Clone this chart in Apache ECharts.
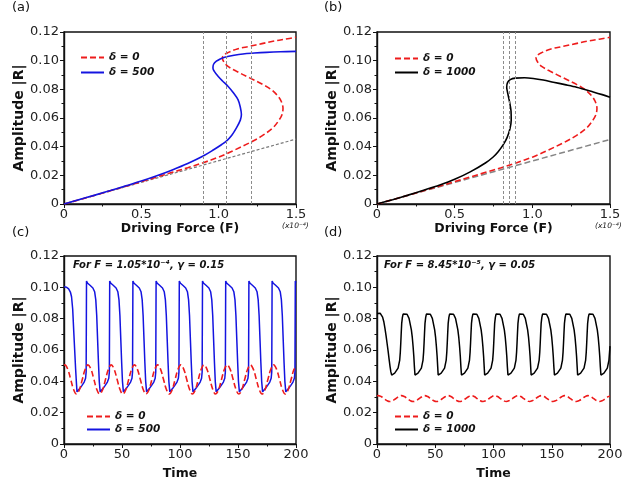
<!DOCTYPE html>
<html>
<head>
<meta charset="utf-8">
<script src="https://cdn.jsdelivr.net/npm/echarts@6/dist/echarts.min.js"></script>
<style>
  html, body { margin: 0; padding: 0; background: #fff; }
  #chart { width: 638px; height: 484px; }
</style>
</head>
<body>
<div id="chart"></div>
<script>
// ---- Frequency response: amplitude |R| versus driving force F (x1e-4) ----
// delta = 0 (same curve in panels a and b)
const respDelta0 = [
  [0, 0], [0.1, 0.0030], [0.2, 0.0061], [0.3, 0.0093], [0.4, 0.0124], [0.5, 0.0156],
  [0.6, 0.0188], [0.7, 0.0221], [0.8, 0.0253], [0.9, 0.0288], [1.0, 0.0327], [1.05, 0.0350],
  [1.1, 0.0375], [1.2, 0.0427], [1.28, 0.0475], [1.35, 0.0531], [1.39, 0.0585], [1.41, 0.0625],
  [1.416, 0.0668], [1.405, 0.0715], [1.384, 0.0752], [1.34, 0.0798], [1.287, 0.0833], [1.2, 0.0880],
  [1.115, 0.0926], [1.06, 0.0960], [1.033, 0.0992], [1.024, 0.1019], [1.035, 0.1040], [1.06, 0.1056],
  [1.12, 0.1082], [1.2, 0.1100], [1.28, 0.1119], [1.351, 0.1135], [1.43, 0.1150], [1.5, 0.1163]
];
// delta = 500
const respDelta500 = [
  [0, 0], [0.1, 0.0031], [0.2, 0.0062], [0.3, 0.0094], [0.4, 0.0127], [0.5, 0.0160],
  [0.6, 0.0197], [0.7, 0.0238], [0.8, 0.0283], [0.9, 0.0335], [0.97, 0.0380], [1.02, 0.0415],
  [1.05, 0.0439], [1.085, 0.0480], [1.115, 0.0531], [1.14, 0.0585], [1.147, 0.0624], [1.14, 0.0675],
  [1.125, 0.0728], [1.095, 0.0776], [1.06, 0.0822], [1.025, 0.0858], [0.996, 0.0891], [0.972, 0.0925],
  [0.963, 0.0949], [0.967, 0.0975], [0.985, 0.0996], [1.01, 0.1012], [1.039, 0.1024], [1.1, 0.1038],
  [1.157, 0.1047], [1.23, 0.1053], [1.308, 0.1058], [1.4, 0.1062], [1.5, 0.1065]
];
// delta = 1000
const respDelta1000 = [
  [0, 0], [0.1, 0.0030], [0.2, 0.0062], [0.3, 0.0096], [0.4, 0.0131], [0.5, 0.0172],
  [0.6, 0.0224], [0.7, 0.0288], [0.748, 0.0328], [0.78, 0.0365], [0.812, 0.0412], [0.838, 0.0465],
  [0.856, 0.0525], [0.864, 0.0585], [0.863, 0.0645], [0.853, 0.0715], [0.841, 0.0775], [0.835, 0.0815],
  [0.841, 0.0848], [0.858, 0.0868], [0.89, 0.0878], [0.95, 0.0881], [1.006, 0.0876], [1.07, 0.0865],
  [1.135, 0.0850], [1.21, 0.0833], [1.285, 0.0815], [1.392, 0.0782], [1.45, 0.0763], [1.5, 0.0745]
];
// linear (small-amplitude) response
const linearA = [[0, 0], [1.5, 0.0453]];
const linearB = [[0, 0], [1.5, 0.0450]];
// driving forces marked by vertical guides
const guidesA = [0.90, 1.05, 1.21];
const guidesB = [0.812, 0.853, 0.894];

// ---- Time traces of |R| ----
// F = 1.05e-4, gamma = 0.15, delta = 0
const traceC0 = [
  [0, 0.0503], [0.7, 0.0505], [3.2, 0.0478], [5.7, 0.0415], [8.2, 0.0350], [10.7, 0.0319], [13.2, 0.0345], [15.7, 0.0410], [18.2, 0.0475],
  [20.7, 0.0505], [23.2, 0.0478], [25.7, 0.0415], [28.2, 0.0350], [30.7, 0.0319], [33.2, 0.0345], [35.7, 0.0410], [38.2, 0.0475],
  [40.7, 0.0505], [43.2, 0.0478], [45.7, 0.0415], [48.2, 0.0350], [50.7, 0.0319], [53.2, 0.0345], [55.7, 0.0410], [58.2, 0.0475],
  [60.7, 0.0505], [63.2, 0.0478], [65.7, 0.0415], [68.2, 0.0350], [70.7, 0.0319], [73.2, 0.0345], [75.7, 0.0410], [78.2, 0.0475],
  [80.7, 0.0505], [83.2, 0.0478], [85.7, 0.0415], [88.2, 0.0350], [90.7, 0.0319], [93.2, 0.0345], [95.7, 0.0410], [98.2, 0.0475],
  [100.7, 0.0505], [103.2, 0.0478], [105.7, 0.0415], [108.2, 0.0350], [110.7, 0.0319], [113.2, 0.0345], [115.7, 0.0410], [118.2, 0.0475],
  [120.7, 0.0505], [123.2, 0.0478], [125.7, 0.0415], [128.2, 0.0350], [130.7, 0.0319], [133.2, 0.0345], [135.7, 0.0410], [138.2, 0.0475],
  [140.7, 0.0505], [143.2, 0.0478], [145.7, 0.0415], [148.2, 0.0350], [150.7, 0.0319], [153.2, 0.0345], [155.7, 0.0410], [158.2, 0.0475],
  [160.7, 0.0505], [163.2, 0.0478], [165.7, 0.0415], [168.2, 0.0350], [170.7, 0.0319], [173.2, 0.0345], [175.7, 0.0410], [178.2, 0.0475],
  [180.7, 0.0505], [183.2, 0.0478], [185.7, 0.0415], [188.2, 0.0350], [190.7, 0.0319], [193.2, 0.0345], [195.7, 0.0410], [198.2, 0.0475],
  [200, 0.0492]
];
// F = 1.05e-4, gamma = 0.15, delta = 500
const traceC500 = [
  [0, 0.1003], [2, 0.1001], [4, 0.0990], [5.5, 0.0970], [6.5, 0.0940], [7.5, 0.0860], [8.4, 0.0720], [9.2, 0.0600], [10, 0.0480], [10.7, 0.0390], [11.2, 0.0333], [11.9, 0.0336], [13.4, 0.0352], [15.4, 0.0373], [17.4, 0.0395], [18.6, 0.0420], [19.1, 0.0460],
  [19.4, 0.1040], [20.4, 0.1026], [22.4, 0.1013], [24.9, 0.0996], [26.4, 0.0972], [27.4, 0.0920], [28.2, 0.0820], [29.0, 0.0660], [29.7, 0.0520], [30.4, 0.0400], [31.2, 0.0333], [31.9, 0.0336], [33.4, 0.0352], [35.4, 0.0373], [37.4, 0.0395], [38.6, 0.0420], [39.1, 0.0460],
  [39.4, 0.1040], [40.4, 0.1026], [42.4, 0.1013], [44.9, 0.0996], [46.4, 0.0972], [47.4, 0.0920], [48.2, 0.0820], [49.0, 0.0660], [49.7, 0.0520], [50.4, 0.0400], [51.2, 0.0333], [51.9, 0.0336], [53.4, 0.0352], [55.4, 0.0373], [57.4, 0.0395], [58.6, 0.0420], [59.1, 0.0460],
  [59.4, 0.1040], [60.4, 0.1026], [62.4, 0.1013], [64.9, 0.0996], [66.4, 0.0972], [67.4, 0.0920], [68.2, 0.0820], [69.0, 0.0660], [69.7, 0.0520], [70.4, 0.0400], [71.2, 0.0333], [71.9, 0.0336], [73.4, 0.0352], [75.4, 0.0373], [77.4, 0.0395], [78.6, 0.0420], [79.1, 0.0460],
  [79.4, 0.1040], [80.4, 0.1026], [82.4, 0.1013], [84.9, 0.0996], [86.4, 0.0972], [87.4, 0.0920], [88.2, 0.0820], [89.0, 0.0660], [89.7, 0.0520], [90.4, 0.0400], [91.2, 0.0333], [91.9, 0.0336], [93.4, 0.0352], [95.4, 0.0373], [97.4, 0.0395], [98.6, 0.0420], [99.1, 0.0460],
  [99.4, 0.1040], [100.4, 0.1026], [102.4, 0.1013], [104.9, 0.0996], [106.4, 0.0972], [107.4, 0.0920], [108.2, 0.0820], [109.0, 0.0660], [109.7, 0.0520], [110.4, 0.0400], [111.2, 0.0333], [111.9, 0.0336], [113.4, 0.0352], [115.4, 0.0373], [117.4, 0.0395], [118.6, 0.0420], [119.1, 0.0460],
  [119.4, 0.1040], [120.4, 0.1026], [122.4, 0.1013], [124.9, 0.0996], [126.4, 0.0972], [127.4, 0.0920], [128.2, 0.0820], [129.0, 0.0660], [129.7, 0.0520], [130.4, 0.0400], [131.2, 0.0333], [131.9, 0.0336], [133.4, 0.0352], [135.4, 0.0373], [137.4, 0.0395], [138.6, 0.0420], [139.1, 0.0460],
  [139.4, 0.1040], [140.4, 0.1026], [142.4, 0.1013], [144.9, 0.0996], [146.4, 0.0972], [147.4, 0.0920], [148.2, 0.0820], [149.0, 0.0660], [149.7, 0.0520], [150.4, 0.0400], [151.2, 0.0333], [151.9, 0.0336], [153.4, 0.0352], [155.4, 0.0373], [157.4, 0.0395], [158.6, 0.0420], [159.1, 0.0460],
  [159.4, 0.1040], [160.4, 0.1026], [162.4, 0.1013], [164.9, 0.0996], [166.4, 0.0972], [167.4, 0.0920], [168.2, 0.0820], [169.0, 0.0660], [169.7, 0.0520], [170.4, 0.0400], [171.2, 0.0333], [171.9, 0.0336], [173.4, 0.0352], [175.4, 0.0373], [177.4, 0.0395], [178.6, 0.0420], [179.1, 0.0460],
  [179.4, 0.1040], [180.4, 0.1026], [182.4, 0.1013], [184.9, 0.0996], [186.4, 0.0972], [187.4, 0.0920], [188.2, 0.0820], [189.0, 0.0660], [189.7, 0.0520], [190.4, 0.0400], [191.2, 0.0333], [191.9, 0.0336], [193.4, 0.0352], [195.4, 0.0373], [197.4, 0.0395], [198.6, 0.0420], [199.1, 0.0460],
  [199.4, 0.1040], [200, 0.1030]
];
// F = 8.45e-5, gamma = 0.05, delta = 0
const traceD0 = [
  [0, 0.0308], [1, 0.0309], [3.5, 0.0303], [6, 0.0290], [8.5, 0.0277], [11, 0.0271], [13.5, 0.0277], [16, 0.0289], [18.5, 0.0302],
  [21, 0.0309], [23.5, 0.0303], [26, 0.0290], [28.5, 0.0277], [31, 0.0271], [33.5, 0.0277], [36, 0.0289], [38.5, 0.0302],
  [41, 0.0309], [43.5, 0.0303], [46, 0.0290], [48.5, 0.0277], [51, 0.0271], [53.5, 0.0277], [56, 0.0289], [58.5, 0.0302],
  [61, 0.0309], [63.5, 0.0303], [66, 0.0290], [68.5, 0.0277], [71, 0.0271], [73.5, 0.0277], [76, 0.0289], [78.5, 0.0302],
  [81, 0.0309], [83.5, 0.0303], [86, 0.0290], [88.5, 0.0277], [91, 0.0271], [93.5, 0.0277], [96, 0.0289], [98.5, 0.0302],
  [101, 0.0309], [103.5, 0.0303], [106, 0.0290], [108.5, 0.0277], [111, 0.0271], [113.5, 0.0277], [116, 0.0289], [118.5, 0.0302],
  [121, 0.0309], [123.5, 0.0303], [126, 0.0290], [128.5, 0.0277], [131, 0.0271], [133.5, 0.0277], [136, 0.0289], [138.5, 0.0302],
  [141, 0.0309], [143.5, 0.0303], [146, 0.0290], [148.5, 0.0277], [151, 0.0271], [153.5, 0.0277], [156, 0.0289], [158.5, 0.0302],
  [161, 0.0309], [163.5, 0.0303], [166, 0.0290], [168.5, 0.0277], [171, 0.0271], [173.5, 0.0277], [176, 0.0289], [178.5, 0.0302],
  [181, 0.0309], [183.5, 0.0303], [186, 0.0290], [188.5, 0.0277], [191, 0.0271], [193.5, 0.0277], [196, 0.0289], [198.5, 0.0302],
  [200, 0.0307]
];
// F = 8.45e-5, gamma = 0.05, delta = 1000
const traceD1000 = [
  [0, 0.0833], [1.5, 0.0836], [2.8, 0.0834], [3.8, 0.0826], [4.8, 0.0810], [5.8, 0.0782], [6.8, 0.0740], [7.8, 0.0690], [8.7, 0.0640], [9.6, 0.0590], [10.4, 0.0540], [11.2, 0.0494], [11.9, 0.0460],
  [12.6, 0.0440], [15.2, 0.0452], [18.1, 0.0484], [19.5, 0.0536], [20.0, 0.0585], [20.4, 0.0643], [20.8, 0.0710], [21.2, 0.0770], [21.8, 0.0808], [22.4, 0.0829], [23.8, 0.0837], [25.8, 0.0828], [27.5, 0.0802], [29.5, 0.0728], [30.3, 0.0680], [31.0, 0.0621], [31.6, 0.0560], [32.1, 0.0494],
  [32.6, 0.0440], [35.2, 0.0452], [38.1, 0.0484], [39.5, 0.0536], [40.0, 0.0585], [40.4, 0.0643], [40.8, 0.0710], [41.2, 0.0770], [41.8, 0.0808], [42.4, 0.0829], [43.8, 0.0837], [45.8, 0.0828], [47.5, 0.0802], [49.5, 0.0728], [50.3, 0.0680], [51.0, 0.0621], [51.6, 0.0560], [52.1, 0.0494],
  [52.5, 0.0440], [55.1, 0.0452], [58.0, 0.0484], [59.4, 0.0536], [59.9, 0.0585], [60.3, 0.0643], [60.7, 0.0710], [61.1, 0.0770], [61.7, 0.0808], [62.3, 0.0829], [63.7, 0.0837], [65.7, 0.0828], [67.4, 0.0802], [69.4, 0.0728], [70.2, 0.0680], [70.9, 0.0621], [71.5, 0.0560], [72.0, 0.0494],
  [72.5, 0.0440], [75.1, 0.0452], [78.0, 0.0484], [79.4, 0.0536], [79.9, 0.0585], [80.3, 0.0643], [80.7, 0.0710], [81.1, 0.0770], [81.7, 0.0808], [82.3, 0.0829], [83.7, 0.0837], [85.7, 0.0828], [87.4, 0.0802], [89.4, 0.0728], [90.2, 0.0680], [90.9, 0.0621], [91.5, 0.0560], [92.0, 0.0494],
  [92.4, 0.0440], [95.0, 0.0452], [97.9, 0.0484], [99.3, 0.0536], [99.8, 0.0585], [100.2, 0.0643], [100.6, 0.0710], [101.0, 0.0770], [101.6, 0.0808], [102.2, 0.0829], [103.6, 0.0837], [105.6, 0.0828], [107.3, 0.0802], [109.3, 0.0728], [110.1, 0.0680], [110.8, 0.0621], [111.4, 0.0560], [111.9, 0.0494],
  [112.4, 0.0440], [115.0, 0.0452], [117.9, 0.0484], [119.3, 0.0536], [119.8, 0.0585], [120.2, 0.0643], [120.6, 0.0710], [121.0, 0.0770], [121.6, 0.0808], [122.2, 0.0829], [123.6, 0.0837], [125.6, 0.0828], [127.3, 0.0802], [129.3, 0.0728], [130.1, 0.0680], [130.8, 0.0621], [131.4, 0.0560], [131.9, 0.0494],
  [132.3, 0.0440], [134.9, 0.0452], [137.8, 0.0484], [139.2, 0.0536], [139.7, 0.0585], [140.1, 0.0643], [140.5, 0.0710], [140.9, 0.0770], [141.5, 0.0808], [142.1, 0.0829], [143.5, 0.0837], [145.5, 0.0828], [147.2, 0.0802], [149.2, 0.0728], [150.0, 0.0680], [150.7, 0.0621], [151.3, 0.0560], [151.8, 0.0494],
  [152.3, 0.0440], [154.9, 0.0452], [157.8, 0.0484], [159.2, 0.0536], [159.7, 0.0585], [160.1, 0.0643], [160.5, 0.0710], [160.9, 0.0770], [161.5, 0.0808], [162.1, 0.0829], [163.5, 0.0837], [165.5, 0.0828], [167.2, 0.0802], [169.2, 0.0728], [170.0, 0.0680], [170.7, 0.0621], [171.3, 0.0560], [171.8, 0.0494],
  [172.2, 0.0440], [174.8, 0.0452], [177.7, 0.0484], [179.1, 0.0536], [179.6, 0.0585], [180.0, 0.0643], [180.4, 0.0710], [180.8, 0.0770], [181.4, 0.0808], [182.0, 0.0829], [183.4, 0.0837], [185.4, 0.0828], [187.1, 0.0802], [189.1, 0.0728], [189.9, 0.0680], [190.6, 0.0621], [191.2, 0.0560], [191.7, 0.0494],
  [192.2, 0.0440], [194.8, 0.0452], [197.7, 0.0484], [199.1, 0.0536], [199.6, 0.0585], [200, 0.0625]
];

// ---- Axis settings ----
const ampRange = [0, 0.12, 0.02];
const forceRange = [0, 1.5, 0.5];
const timeRange = [0, 200, 50];

const FONT = '"DejaVu Sans", "Liberation Sans", sans-serif';
const RED = '#ee1c1c';
const BLUE = '#1414e0';
const BLACK = '#000000';
const GRAY = '#808080';

const panels = [
  { left: 64, top: 32, width: 232, height: 172 },
  { left: 377, top: 32, width: 233, height: 172 },
  { left: 64, top: 256, width: 232, height: 188 },
  { left: 377, top: 256, width: 233, height: 188 }
];

function xAxisFor(i, range, name, fmt, gap) {
  return {
    type: 'value', gridIndex: i, min: range[0], max: range[1], interval: range[2],
    name: name, nameLocation: 'middle', nameGap: gap,
    nameTextStyle: { fontFamily: FONT, fontWeight: 'bold', fontSize: 12.5, color: '#111' },
    axisLine: { onZero: false, lineStyle: { color: '#111', width: 1.4 } },
    axisTick: { length: 4, lineStyle: { color: '#111', width: 1 } },
    minorTick: { show: true, splitNumber: 2, length: 2.5, lineStyle: { color: '#111', width: 1 } },
    splitLine: { show: false },
    axisLabel: { fontFamily: FONT, fontSize: 13, color: '#222', margin: 4, formatter: fmt }
  };
}
function yAxisFor(i) {
  return {
    type: 'value', gridIndex: i, min: ampRange[0], max: ampRange[1], interval: ampRange[2],
    name: 'Amplitude |R|', nameLocation: 'middle', nameGap: 37,
    nameTextStyle: { fontFamily: FONT, fontWeight: 'bold', fontSize: 14, color: '#111' },
    axisLine: { onZero: false, lineStyle: { color: '#111', width: 1.4 } },
    axisTick: { length: 4, lineStyle: { color: '#111', width: 1 } },
    minorTick: { show: true, splitNumber: 2, length: 2.5, lineStyle: { color: '#111', width: 1 } },
    splitLine: { show: false },
    axisLabel: { fontFamily: FONT, fontSize: 13, color: '#222', margin: 5,
      formatter: v => (v === 0 ? '0' : v.toFixed(2)) }
  };
}
const forceFmt = v => (v === 0 ? '0' : v.toFixed(1));
const timeFmt = v => String(v);

function curve(name, data, i, color, dashed, extra) {
  return Object.assign({
    type: 'line', name: name, data: data, xAxisIndex: i, yAxisIndex: i,
    symbol: 'none', showSymbol: false, animation: false, silent: true,
    lineStyle: { color: color, width: 1.6, type: dashed ? [6, 3] : 'solid' },
    itemStyle: { color: color }
  }, extra || {});
}
function guideLines(values, dash) {
  return {
    silent: true, symbol: 'none', animation: false,
    label: { show: false },
    lineStyle: { color: '#8c8c8c', width: 1, type: dash },
    data: values.map(v => ({ xAxis: v }))
  };
}
function legendFor(left, top, names, gap) {
  return {
    orient: 'vertical', left: left, top: top, padding: 0,
    itemWidth: 23, itemHeight: 10, itemGap: gap,
    selectedMode: false,
    itemStyle: { opacity: 0 },
    textStyle: { fontFamily: FONT, fontWeight: 'bold', fontStyle: 'italic', fontSize: 10.5, color: '#111' },
    data: names
  };
}
function label(text, x, y, size, extra) {
  return {
    type: 'text', left: x, top: y, silent: true,
    style: Object.assign({ text: text, font: `${size}px ${FONT}`, fill: '#111' }, extra || {})
  };
}

const option = {
  backgroundColor: '#fff',
  animation: false,
  grid: panels.map(p => Object.assign({ show: true, borderColor: '#111', borderWidth: 1.4, backgroundColor: 'transparent', containLabel: false }, p)),
  xAxis: [
    xAxisFor(0, forceRange, 'Driving Force (F)', forceFmt, 18),
    xAxisFor(1, forceRange, 'Driving Force (F)', forceFmt, 18),
    xAxisFor(2, timeRange, 'Time', timeFmt, 23),
    xAxisFor(3, timeRange, 'Time', timeFmt, 23)
  ],
  yAxis: [yAxisFor(0), yAxisFor(1), yAxisFor(2), yAxisFor(3)],
  legend: [
    legendFor(80, 52, ['δ = 0', 'δ = 500'], 4),
    legendFor(394, 53, ['δ = 0', 'δ = 1000'], 3),
    legendFor(86, 411, ['δ = 0', 'δ = 500'], 2),
    legendFor(394, 411, ['δ = 0', 'δ = 1000'], 2)
  ],
  series: [
    // (a)
    curve('linear', linearA, 0, GRAY, false, {
      lineStyle: { color: '#7a7a7a', width: 1.2, type: [3, 2] },
      markLine: guideLines(guidesA, [3, 2])
    }),
    curve('δ = 0', respDelta0, 0, RED, true, { smooth: 0.35 }),
    curve('δ = 500', respDelta500, 0, BLUE, false, { smooth: 0.35 }),
    // (b)
    curve('linear', linearB, 1, GRAY, false, {
      lineStyle: { color: '#858585', width: 1.5, type: [6, 3] },
      markLine: guideLines(guidesB, [3, 2])
    }),
    curve('δ = 0', respDelta0, 1, RED, true, { smooth: 0.35 }),
    curve('δ = 1000', respDelta1000, 1, BLACK, false, { smooth: 0.3 }),
    // (c)
    curve('δ = 500', traceC500, 2, BLUE, false, { lineStyle: { color: BLUE, width: 1.5 } }),
    curve('δ = 0', traceC0, 2, RED, true, { smooth: 0.4 }),
    // (d)
    curve('δ = 1000', traceD1000, 3, BLACK, false, { lineStyle: { color: BLACK, width: 1.5 } }),
    curve('δ = 0', traceD0, 3, RED, true, { smooth: 0.4 })
  ],
  graphic: [
    label('(a)', 12, 1, 13),
    label('(b)', 324, 1, 13),
    label('(c)', 12, 226, 13),
    label('(d)', 324, 226, 13),
    label('(x10⁻⁴)', 282, 222, 7.5, { font: `italic 7.5px ${FONT}` }),
    label('(x10⁻⁴)', 595, 222, 7.5, { font: `italic 7.5px ${FONT}` }),
    label('For F = 1.05*10⁻⁴, γ = 0.15', 73, 260, 10, { font: `italic bold 10px ${FONT}` }),
    label('For F = 8.45*10⁻⁵, γ = 0.05', 384, 260, 10, { font: `italic bold 10px ${FONT}` })
  ]
};

const chart = echarts.init(document.getElementById('chart'), null, { renderer: 'canvas' });
chart.setOption(option);
</script>
</body>
</html>
